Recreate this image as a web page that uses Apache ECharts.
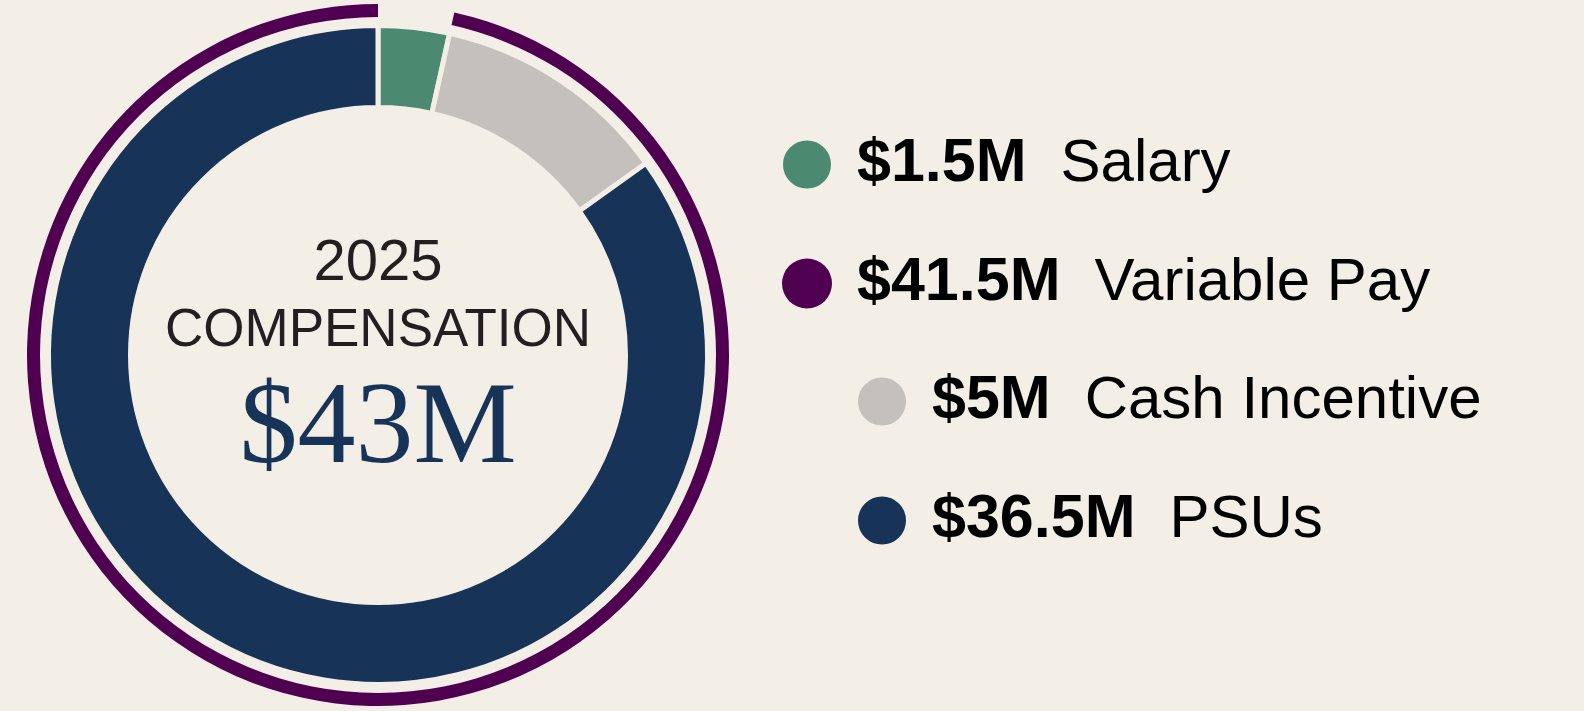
<!DOCTYPE html>
<html>
<head>
<meta charset="utf-8">
<style>
  html, body { margin: 0; padding: 0; background: #f3efe7; }
  #chart { width: 1584px; height: 711px; }
</style>
<script src="https://cdn.jsdelivr.net/npm/echarts@6/dist/echarts.min.js"></script>
</head>
<body>
<div id="chart"></div>
<script>
// ---- data ----
var innerNames = ['Salary', 'Cash Incentive', 'PSUs'];
var innerValues = [1.5, 5, 36.5];
var outerNames = ['Salary gap', 'Variable Pay'];
var outerValues = [1.5, 41.5];
var legendValues = { 'Salary': '$1.5M', 'Variable Pay': '$41.5M', 'Cash Incentive': '$5M', 'PSUs': '$36.5M' };
var centerYear = '2025';
var centerTitle = 'COMPENSATION';
var centerTotal = '$43M';

var BG = '#f3efe7';
var colors = { 'Salary': '#4b8a70', 'Cash Incentive': '#c4c0bc', 'PSUs': '#183358', 'Variable Pay': '#500050', 'Salary gap': 'rgba(0,0,0,0)' };

var cx = 378, cy = 355;

var chart = echarts.init(document.getElementById('chart'));

function legendFormatter(name) {
  return '{v|' + legendValues[name] + '}{n|' + name + '}';
}
var legendRich = {
  v: { fontFamily: 'Liberation Sans', fontWeight: 'bold', fontSize: 61, color: '#000', lineHeight: 50, padding: [0, 0, 0, 20] },
  n: { fontFamily: 'Liberation Sans', fontSize: 60, color: '#000', lineHeight: 50, padding: [0, 0, 0, 34] }
};

chart.setOption({
  backgroundColor: BG,
  animation: false,
  legend: [
    {
      data: ['Salary', 'Variable Pay'],
      orient: 'vertical', left: 781, top: 134, padding: 0,
      icon: 'circle', itemWidth: 50, itemHeight: 50, itemGap: 58,
      selectedMode: false,
      formatter: legendFormatter,
      textStyle: { rich: legendRich }
    },
    {
      data: ['Cash Incentive', 'PSUs'],
      orient: 'vertical', left: 856, top: 371, padding: 0,
      icon: 'circle', itemWidth: 50, itemHeight: 50, itemGap: 58,
      selectedMode: false,
      formatter: legendFormatter,
      textStyle: { rich: legendRich }
    }
  ],
  series: [
    {
      type: 'pie',
      center: [cx, cy],
      radius: [247.5, 329.5],
      startAngle: 90,
      clockwise: true,
      label: { show: false },
      labelLine: { show: false },
      emphasis: { disabled: true },
      itemStyle: { borderColor: BG, borderWidth: 5 },
      data: innerNames.map(function (n, i) {
        return { name: n, value: innerValues[i], itemStyle: { color: colors[n] } };
      })
    },
    {
      type: 'pie',
      center: [cx, cy],
      radius: [338, 351],
      startAngle: 90,
      clockwise: true,
      label: { show: false },
      labelLine: { show: false },
      emphasis: { disabled: true },
      data: outerNames.map(function (n, i) {
        return { name: n, value: outerValues[i], itemStyle: { color: colors[n] } };
      })
    }
  ],
  graphic: [
    { type: 'text', x: cx, y: 264, style: { text: centerYear, fill: '#231f20', font: '58px "Liberation Sans"', align: 'center', verticalAlign: 'middle' } },
    { type: 'text', x: cx, y: 331, style: { text: centerTitle, fill: '#231f20', font: '53px "Liberation Sans"', align: 'center', verticalAlign: 'middle' } },
    { type: 'text', x: cx, y: 432, style: { text: centerTotal, fill: '#183358', font: '116px "Liberation Serif"', align: 'center', verticalAlign: 'middle' } }
  ]
});
</script>
</body>
</html>
